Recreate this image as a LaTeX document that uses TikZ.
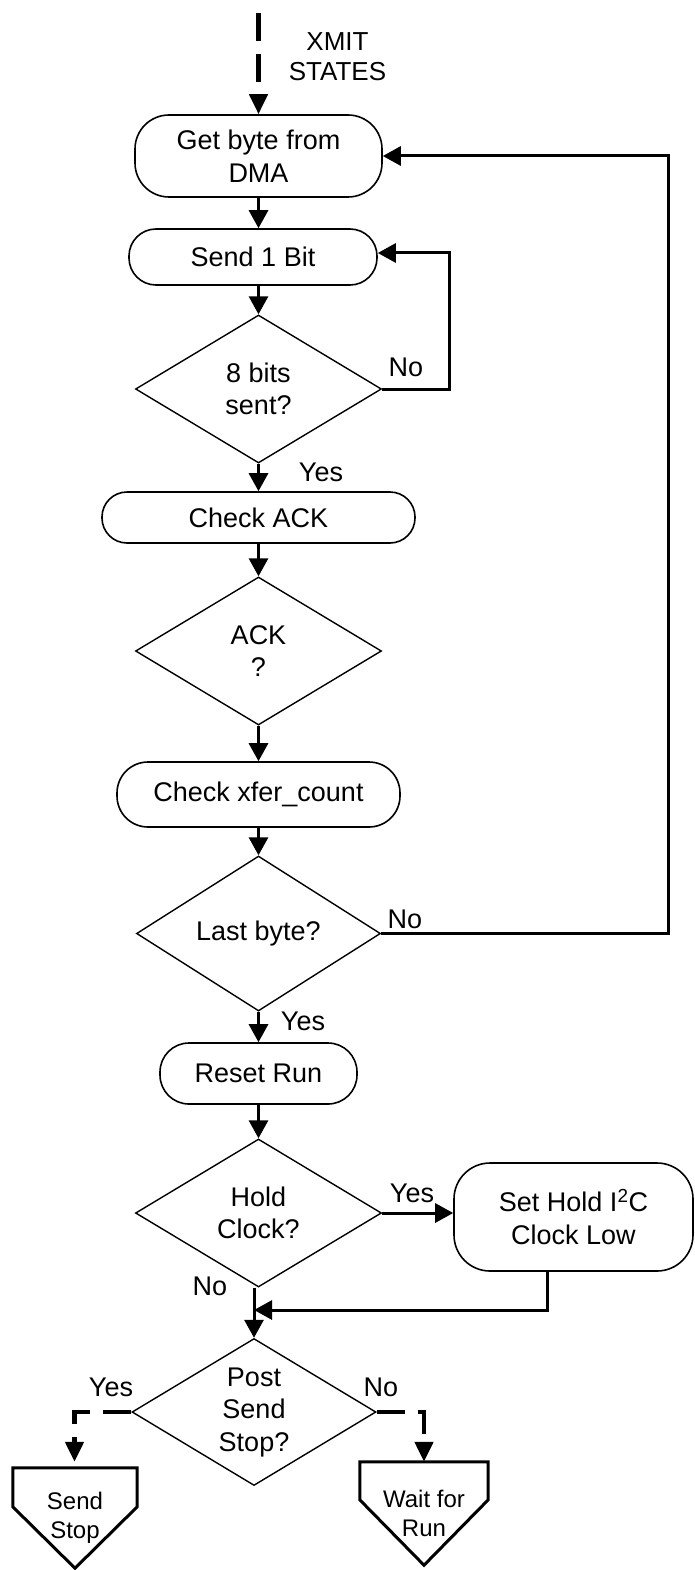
\documentclass[tikz,border=0pt]{standalone}
\usepackage{fontspec}
\setmainfont{Liberation Sans}
\usetikzlibrary{arrows.meta,shapes.geometric,calc}
\begin{document}
\begin{tikzpicture}[x=1pt,y=-1pt,
  every node/.style={font=\fontsize{27}{32.5}\selectfont, inner sep=0pt},
  proc/.style={draw, line width=1.6pt, align=center},
  dec/.style={draw, diamond, line width=1.4pt, align=center, aspect=1.66},
  term/.style={align=center, font=\fontsize{24}{29}\selectfont},
  termline/.style={line width=3pt, line join=miter},
  conn/.style={line width=3pt, -{Triangle[length=18pt,width=19pt]}},
  dconn/.style={line width=4.5pt, dash pattern=on 28pt off 13pt, -{Triangle[length=20pt,width=18pt]}}]
\useasboundingbox (0,0) rectangle (695,1570);

% nodes
\node[align=center, font=\fontsize{26}{30}\selectfont] (xmit) at (337.5,57) {XMIT\\STATES};
\coordinate (start) at (258.5,13);
\node[proc, minimum width=247, minimum height=82, rounded corners=34] (get) at (258.5,156) {Get byte from\\DMA};
\node[proc, minimum width=248, minimum height=56, rounded corners=27] (send) at (253,257) {Send 1 Bit};
\node[dec, minimum width=246, minimum height=148] (bits) at (258.5,389) {8 bits\\sent?};
\node[proc, minimum width=313, minimum height=51, rounded corners=25] (cack) at (258.5,517.5) {Check ACK};
\node[dec, minimum width=246, minimum height=148] (ack) at (258.5,651) {ACK\\?};
\node[proc, minimum width=283, minimum height=65, rounded corners=31] (xfer) at (258.5,794.5) {Check xfer\_count};
\node[dec, minimum width=244, minimum height=155] (last) at (258.5,933.5) {Last byte?};
\node[proc, minimum width=197, minimum height=61, rounded corners=29] (reset) at (258.5,1073.5) {Reset Run};
\node[dec, minimum width=246, minimum height=148] (hold) at (258.5,1213) {Hold\\Clock?};
\node[proc, minimum width=239, minimum height=108, rounded corners=36] (sethold) at (573.5,1217) {Set Hold I\textsuperscript{2}C\\Clock Low};
\node[dec, minimum width=244, minimum height=147] (post) at (254,1412) {Post\\Send\\Stop?};
\node[term, minimum width=124, minimum height=100] (sstop) at (75,1518) {Send\\Stop};
\node[term, minimum width=128, minimum height=103] (wait) at (424,1513.5) {Wait for\\Run};

% pentagon outlines
\draw[termline] (sstop.north west) -- (sstop.north east) -- ([yshift=-39pt]sstop.north east) -- (sstop.south) -- ([yshift=-39pt]sstop.north west) -- cycle;
\draw[termline] (wait.north west) -- (wait.north east) -- ([yshift=-38pt]wait.north east) -- (wait.south) -- ([yshift=-38pt]wait.north west) -- cycle;

% labels
\node (no1) at (406,367) {No};
\node (yes1) at (321,472) {Yes};
\node (no2) at (405,919) {No};
\node (yes2) at (303,1021) {Yes};
\node (yes3) at (412,1193) {Yes};
\node (no3) at (210,1286) {No};
\node (yes4) at (111,1387) {Yes};
\node (no4) at (381,1387) {No};

% coordinates for bends
\coordinate (c1) at (668,156);
\coordinate (c2) at (449,253);
\coordinate (merge) at (254,1310);
\coordinate (dl) at (74.5,1412);
\coordinate (dr) at (424,1412);

% connectors
\draw[dconn] (start) -- (get.north);
\draw[conn] (get.south) -- (get.south |- send.north);
\draw[conn] (bits.north |- send.south) -- (bits.north);
\draw[conn] (bits.east) -| (c2) -- (send.east |- c2);
\draw[conn] (bits.south) -- (cack.north);
\draw[conn] (cack.south) -- (ack.north);
\draw[conn] (ack.south) -- (xfer.north);
\draw[conn] (xfer.south) -- (last.north);
\draw[conn] (last.east) -| (c1) -- (get.east);
\draw[conn] (last.south) -- (reset.north);
\draw[conn] (reset.south) -- (hold.north);
\draw[conn] (hold.east) -- (sethold.west |- hold.east);
\draw[conn] (post.north |- hold.south) -- (post.north);
\draw[conn] ([xshift=-26.5pt]sethold.south) |- (merge);
\draw[dconn, shorten >=6pt] (post.west) -- (dl) -- (sstop.north -| dl);
\draw[dconn] (post.east) -- (dr) -- (wait.north);
\end{tikzpicture}
\end{document}
